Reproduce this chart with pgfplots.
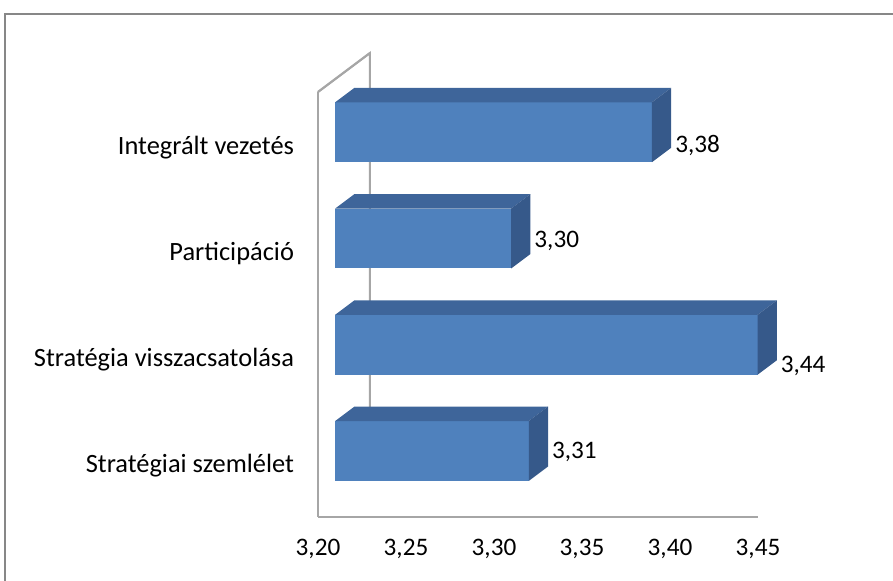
\documentclass[border=0pt]{standalone}
\usepackage{fontspec}
\setmainfont{Carlito}
\usepackage{pgfplots}
\pgfplotsset{compat=1.18}
\definecolor{barfront}{HTML}{4F81BD}
\definecolor{bartop}{HTML}{3E659A}
\definecolor{barside}{HTML}{36598A}
\definecolor{wallgray}{HTML}{A6A6A6}
\definecolor{framegray}{HTML}{878787}
\begin{document}
\begin{tikzpicture}
\begin{axis}[
  x={(880pt,0pt)}, y={(0pt,53.125pt)}, z={(26pt,19.5pt)},
  xmin=3.2, xmax=3.45, ymin=0, ymax=4, zmin=0, zmax=1,
  enlargelimits=false, clip=false,
  axis lines=left,
  axis line style={-, draw=wallgray, line width=1pt},
  xtick={3.2,3.25,3.3,3.35,3.4,3.45},
  ytick={0.5,1.5,2.5,3.5},
  yticklabels={Stratégiai szemlélet, Stratégia visszacsatolása, Participáció, Integrált vezetés},
  ztick=\empty,
  major tick length=0pt,
  scaled x ticks=false,
  ticklabel style={text=black},
  xticklabel style={font=\fontsize{12.6}{14}\selectfont, anchor=north, yshift=-7.5pt, /pgf/number format/.cd, fixed, fixed zerofill, precision=2, use comma, assume math mode=true},
  yticklabel style={font=\fontsize{13.2}{15}\selectfont, anchor=east, xshift=-8.5pt, yshift=-1pt},
]
% back wall lines
\addplot3[wallgray, line width=1pt] coordinates {(3.2,4,0) (3.2,4,1) (3.2,0,1)};
% Stratégiai szemlélet 3.31
\addplot3[fill=barfront, draw=none] coordinates {(3.2,0.218,0.33) (3.31,0.218,0.33) (3.31,0.782,0.33) (3.2,0.782,0.33)};
\addplot3[fill=bartop, draw=none] coordinates {(3.2,0.782,0.33) (3.31,0.782,0.33) (3.31,0.782,0.70) (3.2,0.782,0.70)};
\addplot3[fill=barside, draw=none] coordinates {(3.31,0.218,0.33) (3.31,0.782,0.33) (3.31,0.782,0.70) (3.31,0.218,0.70)};
% Stratégia visszacsatolása 3.44
\addplot3[fill=barfront, draw=none] coordinates {(3.2,1.218,0.33) (3.44,1.218,0.33) (3.44,1.782,0.33) (3.2,1.782,0.33)};
\addplot3[fill=bartop, draw=none] coordinates {(3.2,1.782,0.33) (3.44,1.782,0.33) (3.44,1.782,0.70) (3.2,1.782,0.70)};
\addplot3[fill=barside, draw=none] coordinates {(3.44,1.218,0.33) (3.44,1.782,0.33) (3.44,1.782,0.70) (3.44,1.218,0.70)};
% Participáció 3.30
\addplot3[fill=barfront, draw=none] coordinates {(3.2,2.218,0.33) (3.30,2.218,0.33) (3.30,2.782,0.33) (3.2,2.782,0.33)};
\addplot3[fill=bartop, draw=none] coordinates {(3.2,2.782,0.33) (3.30,2.782,0.33) (3.30,2.782,0.70) (3.2,2.782,0.70)};
\addplot3[fill=barside, draw=none] coordinates {(3.30,2.218,0.33) (3.30,2.782,0.33) (3.30,2.782,0.70) (3.30,2.218,0.70)};
% Integrált vezetés 3.38
\addplot3[fill=barfront, draw=none] coordinates {(3.2,3.218,0.33) (3.38,3.218,0.33) (3.38,3.782,0.33) (3.2,3.782,0.33)};
\addplot3[fill=bartop, draw=none] coordinates {(3.2,3.782,0.33) (3.38,3.782,0.33) (3.38,3.782,0.70) (3.2,3.782,0.70)};
\addplot3[fill=barside, draw=none] coordinates {(3.38,3.218,0.33) (3.38,3.782,0.33) (3.38,3.782,0.70) (3.38,3.218,0.70)};
% value labels
\addplot3[draw=none, mark=none, point meta=x,
  nodes near coords={\pgfmathprintnumber[fixed,fixed zerofill,precision=2,use comma,assume math mode=true]{\pgfplotspointmeta}},
  every node near coord/.append style={anchor=west, xshift=-1.5pt, font=\fontsize{12.6}{14}\selectfont, text=black}]
  coordinates {(3.31,0.355,0.70) (3.44,1.164,0.70) (3.30,2.341,0.70) (3.38,3.244,0.70)};
\coordinate (O) at (axis cs:3.2,0,0);
\end{axis}
\draw[framegray, line width=1pt] ([shift={(-156.5pt,-60pt)}]O) -- ([shift={(-156.5pt,251.5pt)}]O) -- ([shift={(320pt,251.5pt)}]O);
\pgfresetboundingbox
\path[use as bounding box] ([shift={(-159pt,-32pt)}]O) rectangle ([shift={(287.5pt,258.5pt)}]O);
\end{tikzpicture}
\end{document}
